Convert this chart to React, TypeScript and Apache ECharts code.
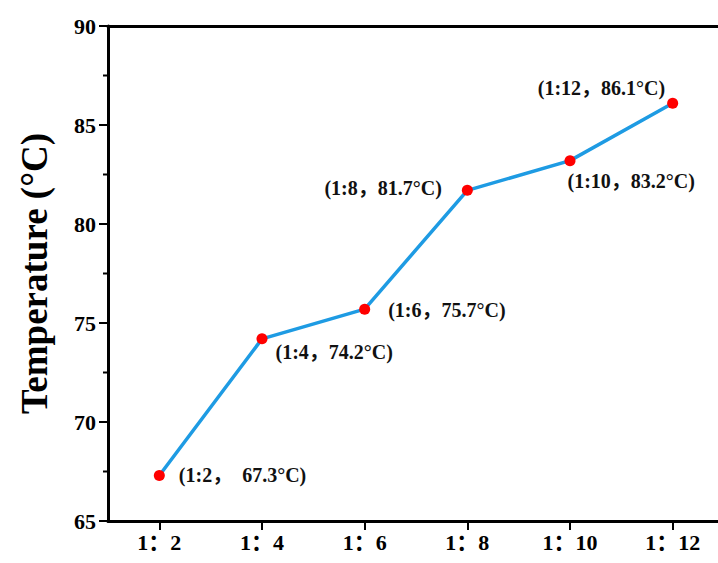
import React, { useEffect, useRef } from "react";
import * as echarts from "echarts";

const categories = ["1：2", "1：4", "1：6", "1：8", "1：10", "1：12"];
const temperatures = [67.3, 74.2, 75.7, 81.7, 83.2, 86.1];
const pointLabels = [
  "(1:2，  67.3°C)",
  "(1:4，74.2°C)",
  "(1:6，75.7°C)",
  "(1:8，81.7°C)",
  "(1:10，83.2°C)",
  "(1:12，86.1°C)",
];
const yMin = 65;
const yMax = 90;
const yInterval = 5;
const yMajorTicks = [65, 70, 75, 80, 85, 90];
const yMinorTicks = [67.5, 72.5, 77.5, 82.5, 87.5];

const labelStyles: any[] = [
  { position: "right", distance: 14, offset: [0, 0] },
  { position: "right", distance: 8, offset: [0, 13] },
  { position: "right", distance: 18, offset: [0, 1] },
  { position: "left", distance: 20, offset: [0, -2] },
  { position: "right", distance: -8, offset: [0, 20] },
  { position: "left", distance: 2, offset: [0, -15] },
];

const FONT = "'Liberation Serif', 'Times New Roman', 'Noto Sans CJK SC', serif";

function tickSeries(values: number[], len: number) {
  return {
    type: "custom",
    clip: false,
    data: values.map((v) => [0, v]),
    renderItem: (params: any, api: any) => {
      const y = api.coord([0, api.value(1)])[1];
      const x = params.coordSys.x;
      return {
        type: "line",
        shape: { x1: x - len, y1: y, x2: x, y2: y },
        style: { stroke: "#000", lineWidth: 2 },
      };
    },
  };
}

export default function App() {
  const ref = useRef<HTMLDivElement>(null);
  useEffect(() => {
    if (!ref.current) return;
    const chart = echarts.init(ref.current, undefined, { renderer: "svg" });
    chart.setOption({
      animation: false,
      grid: { left: 108, right: 16, top: 26, bottom: 42 },
      xAxis: [
        {
          type: "category",
          data: categories,
          boundaryGap: true,
          axisLine: { show: true, onZero: false, lineStyle: { color: "#000", width: 3 } },
          axisTick: { show: true, alignWithLabel: true, length: 9, lineStyle: { color: "#000", width: 2 } },
          axisLabel: { color: "#000", fontFamily: FONT, fontWeight: "bold", fontSize: 22, margin: 10 },
          splitLine: { show: false },
        },
        {
          type: "category",
          position: "top",
          data: categories,
          boundaryGap: true,
          axisLine: { show: true, onZero: false, lineStyle: { color: "#000", width: 3 } },
          axisTick: { show: false },
          axisLabel: { show: false },
          splitLine: { show: false },
        },
      ],
      yAxis: {
        type: "value",
        min: yMin,
        max: yMax,
        interval: yInterval,
        name: "Temperature (°C)",
        nameLocation: "middle",
        nameGap: 55,
        nameTextStyle: { color: "#000", fontFamily: FONT, fontWeight: "bold", fontSize: 37 },
        axisLine: { show: true, onZero: false, lineStyle: { color: "#000", width: 3 } },
        axisTick: { show: false },
        axisLabel: { color: "#000", fontFamily: FONT, fontWeight: "bold", fontSize: 22, margin: 12 },
        splitLine: { show: false },
      },
      series: [
        tickSeries(yMajorTicks, 9),
        tickSeries(yMinorTicks, 5),
        {
          type: "line",
          data: temperatures.map((v, i) => ({
            value: v,
            label: {
              show: true,
              formatter: pointLabels[i],
              ...labelStyles[i],
            },
          })),
          symbol: "circle",
          symbolSize: 11,
          itemStyle: { color: "#ff0000" },
          lineStyle: { color: "#1e9be3", width: 3.5 },
          label: {
            color: "#111",
            fontFamily: FONT,
            fontWeight: "bold",
            fontSize: 20,
          },
          z: 3,
        },
      ],
    });
    return () => chart.dispose();
  }, []);
  return (
    <div style={{ position: "fixed", left: 0, top: 0, width: 718, height: 563, overflow: "hidden", background: "#fff" }}>
      <div ref={ref} style={{ width: 740, height: 563 }} />
    </div>
  );
}
